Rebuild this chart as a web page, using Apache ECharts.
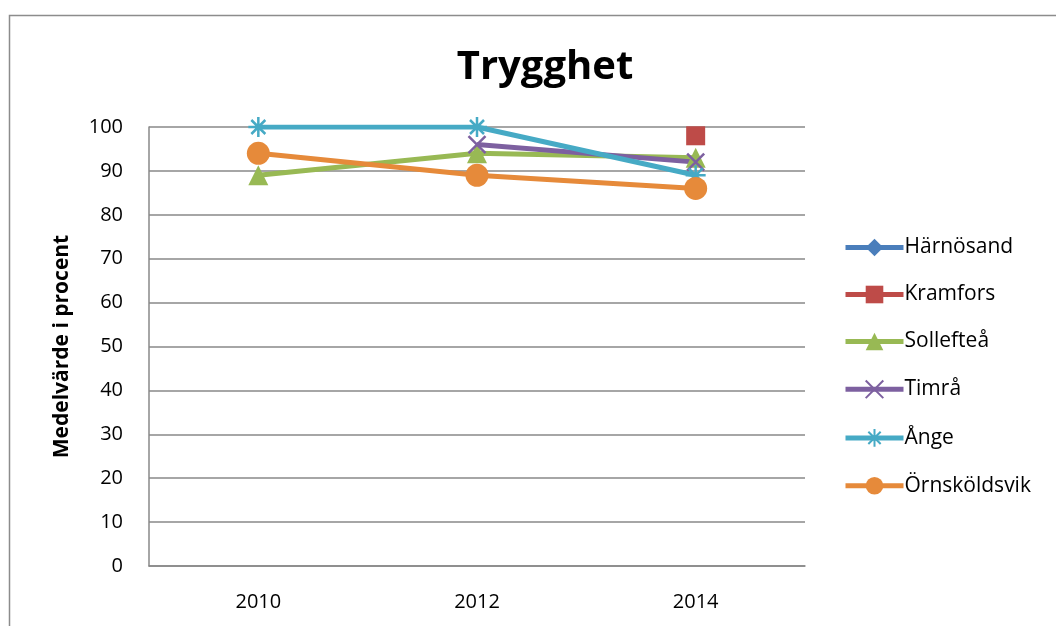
<!DOCTYPE html>
<html>
<head>
<meta charset="utf-8">
<script src="https://cdn.jsdelivr.net/npm/echarts@6/dist/echarts.min.js"></script>
<style>
    html, body { margin: 0; padding: 0; background: #fff; }
    #chart { width: 1056px; height: 626px; }
</style>
</head>
<body>
<div id="chart"></div>
<script>
(function () {
    'use strict';

    var years = ['2010', '2012', '2014'];
    var yTicks = [0, 10, 20, 30, 40, 50, 60, 70, 80, 90, 100];

    var harnosand = [null, null, null];
    var kramfors = [null, null, 98];
    var solleftea = [89, 94, 93];
    var timra = [null, 96, 92];
    var ange = [100, 100, 89];
    var ornskoldsvik = [94, 89, 86];

    var names = ['Härnösand', 'Kramfors', 'Sollefteå', 'Timrå', 'Ånge', 'Örnsköldsvik'];
    var colors = ['#4a7ebb', '#be4b48', '#98b954', '#7d60a0', '#46aac5', '#e68a3a'];

    var X_PATH = 'path://M0,0L10,10M10,0L0,10';
    var STAR_PATH = 'path://M5,0L5,10M0,5L10,5M1.5,1.5L8.5,8.5M8.5,1.5L1.5,8.5';

    var font = '"Open Sans", "Noto Sans", sans-serif';

    function makeSeries(idx, data, symbol, size, hollow) {
        var color = colors[idx];
        return {
            name: names[idx],
            type: 'line',
            data: data,
            symbol: symbol,
            symbolSize: size,
            showAllSymbol: true,
            connectNulls: false,
            lineStyle: { color: color, width: 5 },
            itemStyle: hollow ? {
                color: 'none', borderColor: color, borderWidth: 2.5
            } : {
                color: color, borderColor: color, borderWidth: 0
            },
            emphasis: { disabled: true }
        };
    }

    var legendData = names.map(function (n, i) {
        return { name: n, lineStyle: { color: colors[i], width: 5 } };
    });

    var chart = echarts.init(document.getElementById('chart'));
    chart.setOption({
        animation: false,
        title: {
            text: 'Trygghet',
            left: 540,
            top: 43,
            textAlign: 'center',
            textStyle: { fontFamily: font, fontSize: 40, fontWeight: 'bold', color: '#000' }
        },
        graphic: [{
            type: 'rect',
            shape: { x: 9.5, y: 15.5, width: 1200, height: 800 },
            style: { fill: 'none', stroke: '#8c8c8c', lineWidth: 1.5 },
            silent: true
        }],
        legend: {
            orient: 'vertical',
            left: 838,
            top: 232,
            itemWidth: 58,
            itemHeight: 22,
            itemGap: 26,
            textStyle: { fontFamily: font, fontSize: 21, color: '#000', padding: [0, 0, 0, -4] },
            data: legendData
        },
        grid: { left: 149, right: 251, top: 127, bottom: 60 },
        xAxis: {
            type: 'category',
            data: years,
            boundaryGap: true,
            axisLine: { show: true, lineStyle: { color: '#888', width: 1.5 } },
            axisTick: { show: false },
            axisLabel: { fontFamily: font, fontSize: 20, color: '#000', margin: 26 }
        },
        yAxis: {
            type: 'value',
            min: yTicks[0],
            max: yTicks[yTicks.length - 1],
            interval: 10,
            name: 'Medelvärde i procent',
            nameLocation: 'middle',
            nameGap: 76,
            nameRotate: 90,
            nameTextStyle: { fontFamily: font, fontSize: 21, fontWeight: 'bold', color: '#000' },
            axisLine: { show: true, lineStyle: { color: '#888', width: 1.5 } },
            axisTick: { show: false },
            axisLabel: { fontFamily: font, fontSize: 20, color: '#000', margin: 26 },
            splitLine: { show: true, lineStyle: { color: '#888', width: 1.5 } }
        },
        series: [
            makeSeries(0, harnosand, 'diamond', 20, false),
            makeSeries(1, kramfors, 'rect', 19, false),
            makeSeries(2, solleftea, 'triangle', 20, false),
            makeSeries(3, timra, X_PATH, 17, true),
            makeSeries(4, ange, STAR_PATH, 20, true),
            makeSeries(5, ornskoldsvik, 'circle', 23, false)
        ]
    });
})();
</script>
</body>
</html>
